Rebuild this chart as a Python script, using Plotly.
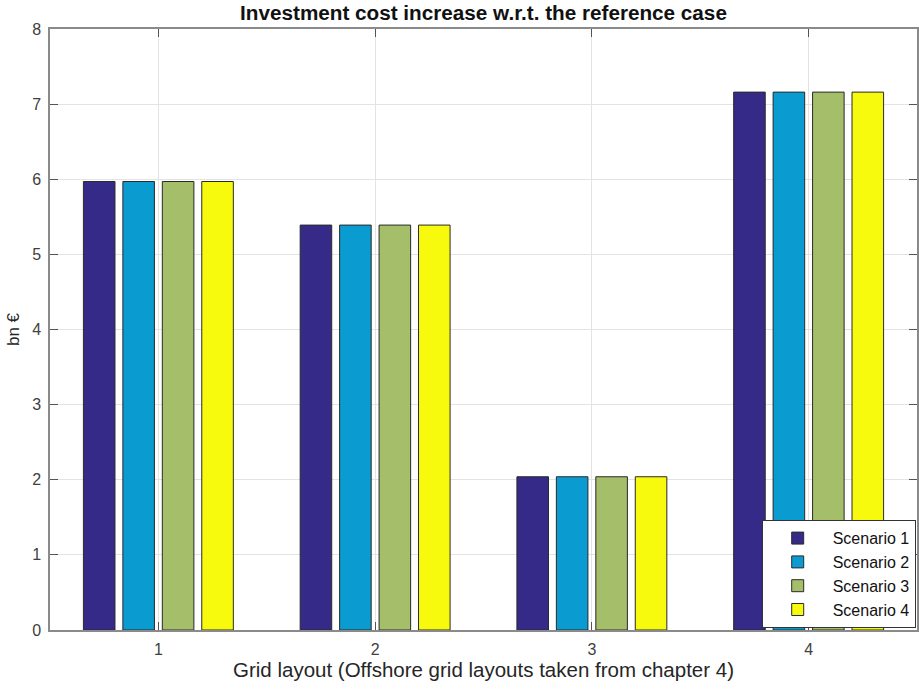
import plotly.graph_objects as go

categories = [1, 2, 3, 4]
scenario_names = ["Scenario 1", "Scenario 2", "Scenario 3", "Scenario 4"]
scenario1 = [5.97, 5.39, 2.04, 7.16]
scenario2 = [5.97, 5.39, 2.04, 7.16]
scenario3 = [5.97, 5.39, 2.04, 7.16]
scenario4 = [5.97, 5.39, 2.04, 7.16]
colors = ["#352a87", "#0a9bd0", "#a5be6a", "#f8fa0d"]

FONT = "Liberation Sans, Arial, Helvetica"

fig = go.Figure()
for name, vals, col in zip(scenario_names, [scenario1, scenario2, scenario3, scenario4], colors):
    fig.add_trace(go.Bar(x=categories, y=vals, name=name,
                         marker=dict(color=col, line=dict(color="#2a2a2a", width=1))))

axis_common = dict(showline=True, linecolor="#8a8a8a", linewidth=1.5, mirror="ticks",
                   ticks="inside", ticklen=8, tickcolor="#555555", tickwidth=1,
                   showgrid=True, gridcolor="#e3e3e3", zeroline=False, automargin=False,
                   tickfont=dict(family=FONT, size=16, color="#404040"))

fig.update_layout(
    width=919, height=691,
    margin=dict(l=50, r=2, t=29, b=61),
    paper_bgcolor="white", plot_bgcolor="white",
    barmode="group", bargap=0.272, bargroupgap=0.2,
    title=dict(text="<b>Investment cost increase w.r.t. the reference case</b>",
               x=0.5, xref="paper", xanchor="center", y=0.981, yref="container", yanchor="middle",
               font=dict(family=FONT, size=20.7, color="#111111")),
    xaxis=dict(range=[0.5, 4.5], tickvals=categories, ticktext=[str(c) for c in categories],
               ticklabelstandoff=4,
               title=dict(text="Grid layout (Offshore grid layouts taken from chapter 4)",
                          font=dict(family=FONT, size=20.5, color="#262626"),
                          standoff=5),
               **axis_common),
    yaxis=dict(range=[0, 8], dtick=1, ticklabelstandoff=4,
               title=dict(text="bn €", font=dict(family=FONT, size=17, color="#262626"),
                          standoff=8),
               **axis_common),
    legend=dict(x=0.9985, y=0.003, xanchor="right", yanchor="bottom",
                bgcolor="white", bordercolor="#333333", borderwidth=1,
                font=dict(family=FONT, size=16, color="#111111"),
                tracegroupgap=0, itemwidth=60),
    showlegend=True,
)

fig.write_html("out.html", config={"displayModeBar": False},
               post_script="document.body.style.margin='0';document.body.style.overflow='hidden';")
